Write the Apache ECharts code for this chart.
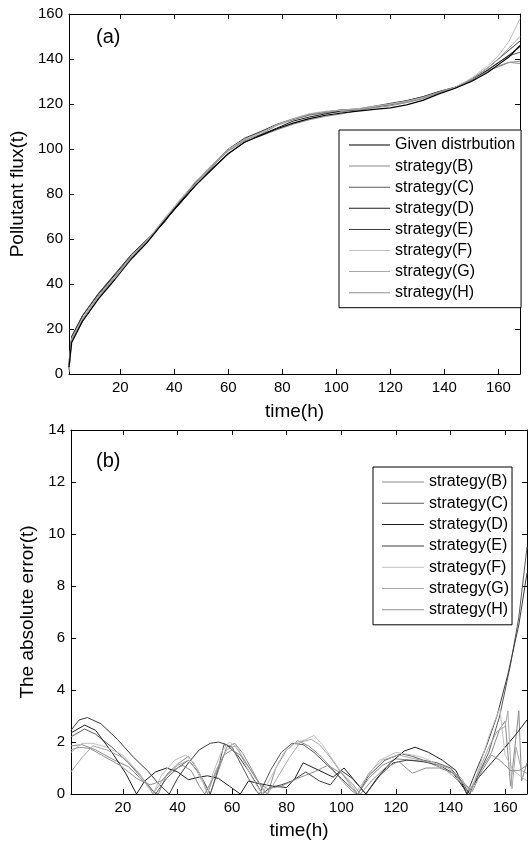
<!DOCTYPE html>
<html>
<head>
<meta charset="utf-8">
<script src="https://cdn.jsdelivr.net/npm/echarts@6/dist/echarts.min.js"></script>
<style>
html,body{margin:0;padding:0;background:#fff;}
#chart{width:528px;height:841px;}
</style>
</head>
<body>
<div id="chart"></div>
<script>
// ---------- DATA ----------
const hours = [1,2,6,12,18,24,30,36,42,48,54,60,66,72,78,84,90,96,102,108,114,120,126,132,138,144,150,156,160,164,168];
const fluxGiven = [3,14,23.5,33.5,42,51,58.5,67.5,76,84,91,98,103,106,109,111.5,113.5,115,116,116.8,117.6,118.3,119.6,121.6,124.5,127,130,134,137.5,141,146];
const fluxB = [5,16,24.8,34.5,43.2,51.8,58.8,67.3,77,85.2,92.3,99.5,104,106.5,110.5,113,115,116,116.5,117.4,118.6,119.6,120.8,122.7,125.3,127.4,130.3,134.8,136.5,138.5,139];
const fluxC = [2,15,24.5,35,44,52.8,59.5,67,76.5,85.5,92.8,99.8,104.5,107.5,110.8,113.2,115.2,116.4,117.2,117.6,118.8,120,121,122.9,125.1,127.3,130.6,135.2,138.5,141.5,143];
const fluxD = [4,16.5,25.8,35.8,44,52,59,67.7,75.6,84,91.5,97.8,103,106.3,109.3,112.4,114.2,115.6,117,117.3,118.8,119.8,121.4,123.2,125.4,127.2,130.4,135,138.3,141.8,145.5];
const fluxE = [3,16.8,26,36,44.5,53,60,67,76.4,85.6,93,100,104.8,107.8,111,113.4,115.5,116.5,117.4,117.8,119,120.3,121.5,123.2,125.6,127.5,131,136,140,144,148];
const fluxF = [1,15.8,24.8,34.7,43.6,52,59.5,68.5,77.4,85.8,92.8,99.9,104.3,107.3,110.6,113.5,115.7,116.8,117.2,117.5,118.8,120,121.2,122.9,125.1,127.4,131.5,137,141.5,148,158];
const fluxG = [2,15.5,24.6,34.5,43.3,51.8,59.3,68.7,77,84.9,93,99.5,103.8,107.2,110.8,113.3,115.4,116.5,117.3,117.9,119,119.9,121,122.6,125.3,127.4,131,136,140,145,150];
const fluxH = [6,14.8,23.2,33.9,43,51.5,59,67.9,76.6,85,92.2,99.1,103.6,105.8,108.5,111,113,114.5,115.6,117.2,118.3,119.2,120.6,122.3,125,127,130.5,134.5,137,138.5,138];

const errB = [[1,1.85],[5,1.9],[10,1.7],[16,1.35],[22,1.05],[27,0.55],[31,0.1],[33,0],[36,0.75],[40,1.15],[44,1.45],[47,1.0],[50,0.4],[52,0],[55,0.9],[58,1.8],[61,1.95],[64,1.55],[68,0.8],[71,0.2],[73,0],[76,1.0],[80,1.7],[84,2.05],[88,1.85],[92,1.5],[96,1.05],[100,0.55],[104,0.1],[106,0],[110,0.6],[115,1.1],[120,1.35],[126,1.3],[132,1.2],[138,0.95],[143,0.5],[147,0],[151,0.9],[155,1.6],[158,2.5],[160,2.8],[162,0.3],[165,3.2],[166,0.5],[168,1.2]];
const errC = [[1,2.2],[6,2.5],[10,2.3],[16,1.8],[22,1.2],[28,0.5],[32,0],[36,0.6],[40,1.0],[44,1.3],[48,0.8],[51,0.2],[52,0],[55,1.0],[57,1.9],[60,1.8],[63,1.2],[66,0.6],[69,0.1],[70,0],[74,0.9],[78,1.6],[82,1.95],[86,1.9],[90,1.6],[95,1.1],[100,0.6],[104,0.2],[106,0],[110,0.7],[116,1.3],[122,1.55],[126,1.45],[130,1.3],[135,1.2],[140,1.0],[144,0.5],[147,0],[150,0.7],[154,1.6],[158,3.0],[162,5.0],[165,6.8],[168,9.5]];
const errD = [[1,2.35],[6,2.65],[10,2.45],[16,1.6],[21,0.8],[25,0],[28,0.5],[32,0.85],[36,1.0],[40,0.85],[44,0.55],[48,0.65],[51,0.7],[55,0.6],[59,0.3],[63,0],[66,0.5],[70,0.4],[75,0.3],[80,0.25],[83,0.6],[86,1.2],[90,1.0],[94,0.8],[97,0.65],[101,1.0],[105,0.5],[109,0],[113,0.6],[118,1.2],[123,1.65],[127,1.8],[132,1.6],[137,1.3],[142,0.9],[146,0],[150,0.6],[155,1.2],[160,1.8],[164,2.3],[168,2.85]];
const errE = [[1,2.45],[4,2.85],[7,2.94],[12,2.7],[18,2.1],[24,1.4],[29,0.9],[33,0.4],[37,0],[40,0.6],[44,1.2],[48,1.7],[52,1.95],[55,2.0],[58,1.9],[62,1.5],[66,0.9],[70,0.2],[71,0],[74,0.25],[78,0.35],[82,0.5],[87,0.85],[92,0.5],[96,0.35],[100,0.9],[104,0.6],[109,0],[114,0.7],[119,1.2],[124,1.3],[130,1.25],[136,1.1],[141,0.8],[145,0.2],[146,0],[149,0.8],[153,1.8],[157,3.0],[161,4.6],[165,6.5],[168,8.5]];
const errF = [[1,1.6],[5,1.95],[9,1.95],[14,1.8],[20,1.5],[25,0.9],[29,0.3],[31,0],[34,0.7],[39,1.3],[43,1.5],[46,1.2],[49,0.6],[51,0],[53,0.8],[56,1.6],[59,2.0],[62,1.8],[65,1.1],[68,0.5],[71,0],[75,0.8],[79,1.6],[83,1.95],[87,2.1],[90,2.25],[93,1.9],[97,1.3],[101,0.7],[104,0.2],[105,0],[109,0.6],[114,1.3],[120,1.6],[126,1.5],[130,1.4],[136,1.1],[141,0.7],[146,0.3],[148,0.2],[151,1.2],[154,2.2],[158,3.3],[160,1.5],[163,0.9],[168,0.5]];
const errG = [[1,0.85],[5,1.4],[9,1.85],[14,1.7],[20,1.4],[26,0.8],[30,0.2],[31,0],[35,0.6],[40,1.1],[44,1.3],[47,0.9],[50,0.3],[51,0],[54,0.9],[58,1.7],[61,1.85],[64,1.4],[68,0.7],[72,0.1],[73,0],[77,0.7],[81,1.4],[85,2.0],[89,2.1],[92,1.9],[96,1.4],[100,0.8],[104,0.3],[106,0],[110,0.8],[115,1.3],[121,1.5],[127,1.35],[133,1.2],[139,1.0],[144,0.6],[147,0.1],[150,0.8],[154,1.8],[157,2.4],[160,2.6],[161,3.2],[162.5,0.2],[164,1.8],[166,0.9],[168,0.8]];
const errH = [[1,1.7],[4,1.8],[8,1.75],[13,1.45],[19,1.1],[25,0.6],[30,0.35],[34,0.5],[38,0.9],[42,1.1],[45,0.9],[48,0.3],[50,0],[54,0.8],[57,1.5],[60,1.7],[63,1.5],[67,0.9],[70,0.4],[73,0.2],[78,0.3],[84,0.6],[90,0.85],[95,1.1],[100,0.8],[104,0.4],[107,0],[111,0.5],[116,1.0],[121,1.25],[126,0.8],[131,1.0],[136,1.0],[141,0.8],[145,0.4],[148,0.1],[151,0.8],[155,1.5],[158,1.3],[162,0.9],[165,0.9],[168,1.1]];

const xTicks = [20,40,60,80,100,120,140,160];
const topNames = ['Given distrbution','strategy(B)','strategy(C)','strategy(D)','strategy(E)','strategy(F)','strategy(G)','strategy(H)'];
const bottomNames = ['strategy(B)','strategy(C)','strategy(D)','strategy(E)','strategy(F)','strategy(G)','strategy(H)'];

// ---------- STYLE ----------
const FONT = "'Liberation Sans', Arial, sans-serif";
const colors = {
  'Given distrbution':'#000000',
  'strategy(B)':'#8a8a8a',
  'strategy(C)':'#5a5a5a',
  'strategy(D)':'#1e1e1e',
  'strategy(E)':'#3c3c3c',
  'strategy(F)':'#c0c0c0',
  'strategy(G)':'#a8a8a8',
  'strategy(H)':'#8f8f8f'
};

const chart = echarts.init(document.getElementById('chart'), null, {renderer:'canvas'});

function xAxis(grid, pos, showLabel, name, gap) {
  return {
    type:'value', gridIndex:grid, position:pos, min:1, max:168,
    name: name || '', nameLocation:'middle', nameGap: gap || 0,
    nameTextStyle:{fontSize:19, color:'#000', fontFamily:FONT},
    axisLine:{show:true, onZero:false, lineStyle:{color:'#000', width:1}},
    axisTick:{show:true, inside:true, length:5, customValues:xTicks, lineStyle:{color:'#000'}},
    axisLabel:{show:showLabel, customValues:xTicks, fontSize:15, color:'#000', margin:6, fontFamily:FONT},
    splitLine:{show:false}
  };
}
function yAxis(grid, pos, showLabel, max, interval, name, gap) {
  return {
    type:'value', gridIndex:grid, position:pos, min:0, max:max, interval:interval,
    name: name || '', nameLocation:'middle', nameGap: gap || 0,
    nameTextStyle:{fontSize:19, color:'#000', fontFamily:FONT},
    axisLine:{show:true, onZero:false, lineStyle:{color:'#000', width:1}},
    axisTick:{show:true, inside:true, length:5, lineStyle:{color:'#000'}},
    axisLabel:{show:showLabel, fontSize:15, color:'#000', margin:6, fontFamily:FONT},
    splitLine:{show:false}
  };
}

const topData = [fluxGiven, fluxB, fluxC, fluxD, fluxE, fluxF, fluxG, fluxH];
const bottomData = [errB, errC, errD, errE, errF, errG, errH];

const series = [];
topNames.forEach((n, i) => {
  series.push({
    name:n, type:'line', xAxisIndex:0, yAxisIndex:0,
    data: hours.map((h, k) => [h, topData[i][k]]),
    symbol:'none', showSymbol:false, animation:false,
    color: colors[n],
    lineStyle:{width: i === 0 ? 1.2 : 1, color: colors[n]},
    z: i === 0 ? 3 : 2
  });
});
bottomNames.forEach((n, i) => {
  series.push({
    name:n, type:'line', xAxisIndex:2, yAxisIndex:2,
    data: bottomData[i],
    symbol:'none', showSymbol:false, animation:false,
    color: colors[n],
    lineStyle:{width:1, color: colors[n]}
  });
});

function legendCfg(names, left, top, pad, gap, iw) {
  return {
    data: names, orient:'vertical', left:left, top:top,
    backgroundColor:'#fff', borderColor:'#000', borderWidth:1,
    padding: pad, itemGap: gap, itemWidth: iw, itemHeight: 1,
    icon:'rect', selectedMode:false,
    textStyle:{fontSize:16, color:'#000', fontFamily:FONT, lineHeight:16}
  };
}

const option = {
  backgroundColor:'#fff',
  animation:false,
  grid:[
    {left:69, top:14, width:451, height:360, containLabel:false},
    {left:71, top:430, width:456, height:364, containLabel:false}
  ],
  xAxis:[
    xAxis(0, 'bottom', true, 'time(h)', 28),
    xAxis(0, 'top', false),
    xAxis(1, 'bottom', true, 'time(h)', 27),
    xAxis(1, 'top', false)
  ],
  yAxis:[
    yAxis(0, 'left', true, 160, 20, 'Pollutant flux(t)', 39),
    yAxis(0, 'right', false, 160, 20),
    yAxis(1, 'left', true, 14, 2, 'The absolute error(t)', 27),
    yAxis(1, 'right', false, 14, 2)
  ],
  legend:[
    legendCfg(topNames, 339, 130, [7,6,7,10], 5.1, 41),
    legendCfg(bottomNames, 373, 467, [7,3,7,9], 5.3, 42)
  ],
  graphic:[
    {type:'text', left:96, top:27, style:{text:'(a)', fontSize:20, fill:'#000', font:"20px 'Liberation Sans', Arial, sans-serif"}},
    {type:'text', left:96, top:451, style:{text:'(b)', fontSize:20, fill:'#000', font:"20px 'Liberation Sans', Arial, sans-serif"}}
  ],
  series: series
};
chart.setOption(option);
</script>
</body>
</html>
